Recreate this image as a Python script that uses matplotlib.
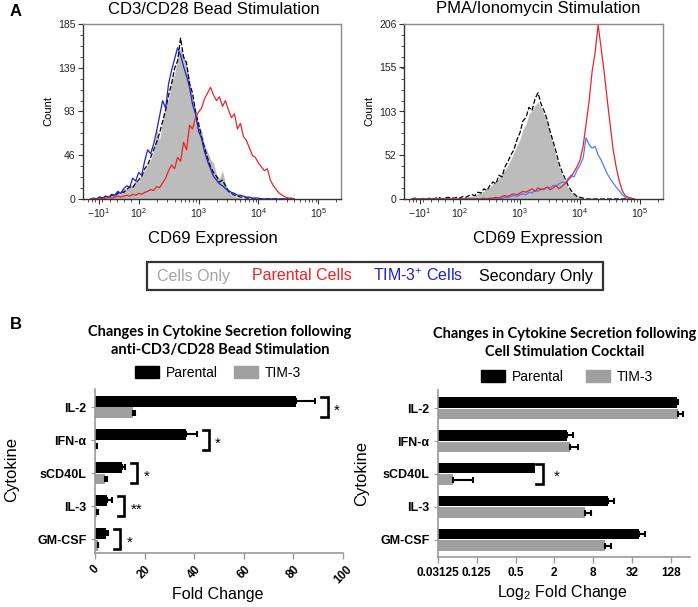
import numpy as np
import matplotlib
matplotlib.use("Agg")
import matplotlib.pyplot as plt
from matplotlib.patches import Patch, Rectangle
from matplotlib.ticker import FixedLocator

plt.rcParams['font.family'] = ['Liberation Sans', 'DejaVu Sans']
plt.rcParams['mathtext.fontset'] = 'custom'
plt.rcParams['mathtext.rm'] = 'Liberation Sans'
plt.rcParams['mathtext.it'] = 'Liberation Sans:italic'
plt.rcParams['mathtext.bf'] = 'Liberation Sans:bold'

# ---------------- data: flow histograms (x in display decades of CD69) ----------------
bead_channel = np.round(np.arange(1.20, 4.601, 0.05), 2)
bead_cells_only = [0, 0, 2, 1, 3, 1, 4, 2, 6, 9, 7, 12, 10, 16, 14, 20, 18, 27, 30, 36,
                   42, 50, 74, 62, 84, 98, 106, 124, 132, 150, 160, 152, 142, 126, 106, 96, 78, 72, 58, 50,
                   42, 38, 26, 22, 30, 16, 10, 5, 3, 2, 1] + [0] * 18
bead_tim3 = [0, 1, 0, 2, 1, 3, 2, 5, 4, 8, 6, 11, 14, 12, 22, 19, 28, 25, 40, 52,
             48, 58, 72, 88, 104, 96, 122, 136, 148, 160, 152, 140, 130, 118, 100, 90, 72, 64, 50, 40,
             32, 24, 20, 16, 14, 11, 9, 7, 6, 4, 4, 3, 2, 2, 1, 1, 1] + [0] * 12
bead_secondary = [0, 0, 1, 2, 1, 3, 1, 4, 3, 6, 8, 7, 10, 13, 12, 17, 20, 24, 32, 36,
                  44, 52, 60, 70, 82, 94, 110, 122, 138, 146, 170, 150, 144, 122, 112, 92, 80, 66, 54, 44,
                  34, 28, 24, 18, 20, 14, 8, 6, 4, 3, 2, 2, 1, 1] + [0] * 15
bead_parental = [0, 0, 0, 1, 0, 1, 2, 1, 2, 3, 2, 3, 4, 3, 5, 4, 6, 5, 7, 8,
                 10, 9, 13, 12, 17, 22, 30, 36, 32, 44, 40, 60, 52, 78, 74, 86, 92, 96, 106, 112,
                 118, 110, 104, 108, 98, 104, 94, 86, 90, 74, 80, 66, 62, 54, 46, 44, 38, 34, 30, 32,
                 20, 14, 10, 6, 4, 2, 1, 1, 0]

pma_channel = np.round(np.arange(1.20, 4.901, 0.05), 2)
pma_cells_only = [0, 0, 0, 0, 1, 0, 0, 1, 0, 1, 0, 1, 1, 0, 1, 1, 2, 1, 2, 3,
                  3, 5, 6, 8, 9, 12, 14, 18, 21, 24, 30, 34, 40, 47, 55, 63, 70, 82, 88, 100,
                  104, 110, 114, 108, 100, 90, 76, 64, 50, 38, 28, 20, 13, 8, 5, 3, 2, 1] + [0] * 17
pma_secondary = [0, 1, 0, 0, 1, 0, 1, 0, 1, 2, 0, 1, 2, 1, 1, 2, 1, 3, 2, 4,
                 5, 4, 8, 7, 12, 10, 16, 20, 18, 28, 26, 38, 44, 52, 58, 70, 78, 92, 96, 108,
                 104, 118, 125, 112, 104, 94, 80, 68, 56, 42, 32, 24, 16, 10, 6, 3, 2, 1] + [0] * 17
pma_parental = [0] * 24 + [1, 0, 1, 1, 2, 1, 3, 4, 3, 5, 6, 5, 7, 9, 8, 10, 12, 9, 13, 11,
                           12, 14, 11, 13, 16, 12, 15, 18, 22, 26, 32, 38, 46, 62, 88, 115, 150, 172, 205, 178,
                           150, 118, 88, 58, 38, 22, 10, 4, 2, 1, 0]
pma_tim3 = [0] * 28 + [1, 0, 1, 2, 2, 3, 4, 3, 5, 6, 5, 8, 7, 10, 9, 12, 11, 14, 13, 16,
                       15, 18, 20, 19, 24, 28, 26, 34, 40, 48, 72, 64, 60, 62, 52, 46, 38, 30, 24, 19,
                       14, 10, 5, 2, 1, 0, 0]

hist_tick_pos = [4 / 3, 2, 3, 4, 5]
hist_tick_labels = [r'$-10^1$', r'$10^2$', r'$10^3$', r'$10^4$', r'$10^5$']
bead_yticks = [0, 46, 93, 139, 185]
pma_yticks = [0, 52, 103, 155, 206]

# ---------------- data: cytokine bars ----------------
cytokines = ['IL-2', 'IFN-α', 'sCD40L', 'IL-3', 'GM-CSF']
bead_fc_parental = [81, 36.5, 10.7, 4.8, 4.4]
bead_fc_parental_err = [7.8, 4.5, 1.3, 2.0, 0.8]
bead_fc_tim3 = [15.5, 0.6, 4.2, 1.0, 1.2]
bead_fc_tim3_err = [0.6, 0.2, 0.5, 0.3, 0.2]
bead_sig = ['*', '*', '*', '**', '*']

cocktail_fc_parental = [160, 3.15, 1.0, 13.5, 41.7]
cocktail_fc_parental_err = [8, 0.75, 0.0, 3.3, 8.8]
cocktail_fc_tim3 = [167, 3.55, 0.054, 6.1, 12.4]
cocktail_fc_tim3_err = [35, 1.2, 0.056, 1.4, 2.8]
cocktail_sig = ['', '', '*', '', '']
log2_ticks = [0.03125, 0.125, 0.5, 2, 8, 32, 128]
log2_ticklabels = ['0.03125', '0.125', '0.5', '2', '8', '32', '128']

# ---------------- figure ----------------
W, H = 698, 607
fig = plt.figure(figsize=(W / 100, H / 100), dpi=100)


def ax_px(l, t, r, b):
    return fig.add_axes([l / W, 1 - b / H, (r - l) / W, (b - t) / H])


RED = '#ec2227'
GRAYFILL = '#bcbcbc'


def draw_hist(ax, x, cells, secondary, tim3, parental, blue, yticks, title, title_x, xlabel_x):
    ax.fill_between(x, cells, 0, color=GRAYFILL, lw=0)
    ax.plot(x, secondary, color='black', lw=0.9, ls=(0, (4, 1.6)))
    ax.plot(x, tim3, color=blue, lw=0.9)
    ax.plot(x, parental, color=RED, lw=0.9)
    ax.set_xlim(1.07, 5.38)
    ax.set_ylim(0, yticks[-1])
    ax.set_xticks(hist_tick_pos)
    ax.set_xticklabels(hist_tick_labels)
    minors = []
    for dec in [2, 3, 4]:
        minors += [dec + np.log10(k) for k in range(2, 10)]
    minors += [5 + np.log10(2)]
    minors += [2 - 0.606 * (1 - v / 100) for v in [-40, -30, -20, 0, 20, 40, 60, 80]]
    ax.xaxis.set_minor_locator(FixedLocator(minors))
    ax.set_yticks(yticks)
    ax.yaxis.set_minor_locator(FixedLocator(np.linspace(0, yticks[-1], 17)))
    ax.tick_params(axis='both', which='major', labelsize=7.5, length=3.5, width=0.8,
                   color='#333333', labelcolor='#222222', pad=2)
    ax.tick_params(axis='both', which='minor', length=2, width=0.6, color='#333333')
    for s in ['left', 'bottom']:
        ax.spines[s].set_color('#333333')
        ax.spines[s].set_linewidth(1.0)
    for s in ['top', 'right']:
        ax.spines[s].set_color('#8a8a8a')
        ax.spines[s].set_linewidth(1.0)
    ax.set_ylabel('Count', fontsize=8, labelpad=3)
    fig.text(title_x / W, 1 - 9 / H, title, ha='center', va='center', fontsize=12)
    fig.text(xlabel_x / W, 1 - 239 / H, 'CD69 Expression', ha='center', va='center', fontsize=12)


ax1 = ax_px(83, 24, 341, 199)
draw_hist(ax1, bead_channel, bead_cells_only, bead_secondary, bead_tim3, bead_parental,
          '#1f22c8', bead_yticks, 'CD3/CD28 Bead Stimulation', 214, 213)
ax2 = ax_px(404, 24, 663, 199)
draw_hist(ax2, pma_channel, pma_cells_only, pma_secondary, pma_tim3, pma_parental,
          '#4a7dff', pma_yticks, 'PMA/Ionomycin Stimulation', 538, 538)

fig.text(10 / W, 1 - 12 / H, 'A', fontsize=12, fontweight='bold', ha='left', va='center')
fig.text(10 / W, 1 - 325 / H, 'B', fontsize=12, fontweight='bold', ha='left', va='center')

# legend box for histograms
fig.add_artist(Rectangle((147 / W, 1 - 290 / H), 456 / W, 28 / H, transform=fig.transFigure,
                         fill=False, ec='#333333', lw=1.6))
leg_items = [('Cells Only', '#a5a5a5', 157), ('Parental Cells', RED, 252),
             (r'TIM-3$^{+}$ Cells', '#1f22c8', 373), ('Secondary Only', 'black', 479)]
for txt, col, xp in leg_items:
    fig.text(xp / W, 1 - 276 / H, txt, color=col, fontsize=11.5, ha='left', va='center')

# ---------------- bar charts ----------------
BAR_GRAY = '#a0a0a0'
ypos = np.arange(len(cytokines))
bh = 0.33
off = 0.18
TITLE_FONT = ['Lato', 'DejaVu Sans']


def style_bar_ax(ax):
    for s in ['top', 'right']:
        ax.spines[s].set_visible(False)
    for s in ['left', 'bottom']:
        ax.spines[s].set_color('#9a9a9a')
        ax.spines[s].set_linewidth(1.2)
    ax.set_yticks(ypos)
    ax.set_yticklabels(cytokines, fontweight='bold', fontsize=9)
    ax.tick_params(axis='y', length=3, color='#9a9a9a', pad=3)
    ax.tick_params(axis='x', length=4, color='#9a9a9a', width=1.0)


# left: linear fold change
ax3 = ax_px(95, 389, 343, 553)
ax3.barh(ypos - off, bead_fc_parental, height=bh, color='black')
ax3.barh(ypos + off, bead_fc_tim3, height=bh, color=BAR_GRAY)
ax3.errorbar(bead_fc_parental, ypos - off, xerr=[np.zeros(5), bead_fc_parental_err], fmt='none',
             ecolor='black', elinewidth=1.5, capsize=2, capthick=1.5)
ax3.errorbar(bead_fc_tim3, ypos + off, xerr=[np.zeros(5), bead_fc_tim3_err], fmt='none',
             ecolor='black', elinewidth=1.5, capsize=2, capthick=1.5)
ax3.set_xlim(0, 100)
ax3.set_ylim(4.42, -0.545)
style_bar_ax(ax3)
ax3.set_xticks([0, 20, 40, 60, 80, 100])
ax3.set_xticklabels(['0', '20', '40', '60', '80', '100'], rotation=45, ha='center',
                    fontweight='bold', fontsize=8.5)
for i, lab in enumerate(bead_sig):
    top = max(bead_fc_parental[i] + bead_fc_parental_err[i], bead_fc_tim3[i] + bead_fc_tim3_err[i])
    xb = top + 5
    ax3.plot([xb - 2.6, xb, xb, xb - 2.6], [i - 0.3, i - 0.3, i + 0.3, i + 0.3], color='black',
             lw=1.9, solid_joinstyle='miter')
    ax3.text(xb + 2.5, i + 0.12, lab, fontsize=11, ha='left', va='center')

fig.text(220 / W, 1 - 341 / H, 'Changes in Cytokine Secretion following\nanti-CD3/CD28 Bead Stimulation',
         ha='center', va='center', fontsize=10.5, fontweight='bold', family=TITLE_FONT, linespacing=1.4)
fig.text(218 / W, 1 - 594 / H, 'Fold Change', ha='center', va='center', fontsize=11.5)
fig.text(12 / W, 1 - 470 / H, 'Cytokine', ha='center', va='center', fontsize=12, rotation=90)

handles = [Patch(color='black'), Patch(color=BAR_GRAY)]
fig.legend(handles, ['Parental', 'TIM-3'], loc='center', bbox_to_anchor=(218 / W, 1 - 373 / H),
           ncol=2, frameon=False, fontsize=10, handlelength=1.7, handleheight=0.9,
           columnspacing=1.2, handletextpad=0.5)

# right: log2 fold change
xmin = 0.03125
ax4 = ax_px(438, 390, 690, 557)
ax4.set_xscale('log', base=2)
ax4.barh(ypos - off, np.array(cocktail_fc_parental) - xmin, left=xmin, height=bh, color='black')
ax4.barh(ypos + off, np.array(cocktail_fc_tim3) - xmin, left=xmin, height=bh, color=BAR_GRAY)
perr = np.array(cocktail_fc_parental_err)
mask = perr > 0
ax4.errorbar(np.array(cocktail_fc_parental)[mask], (ypos - off)[mask],
             xerr=[np.zeros(mask.sum()), perr[mask]], fmt='none',
             ecolor='black', elinewidth=1.5, capsize=2, capthick=1.5)
ax4.errorbar(cocktail_fc_tim3, ypos + off, xerr=[np.zeros(5), cocktail_fc_tim3_err], fmt='none',
             ecolor='black', elinewidth=1.5, capsize=2, capthick=1.5)
ax4.set_xlim(xmin, 256)
ax4.set_ylim(4.52, -0.55)
style_bar_ax(ax4)
ax4.xaxis.set_minor_locator(FixedLocator([]))
ax4.set_xticks(log2_ticks)
ax4.set_xticklabels(log2_ticklabels, fontweight='bold', fontsize=8.5)
for i, lab in enumerate(cocktail_sig):
    if lab:
        xb = 1.33
        ax4.plot([xb * 0.78, xb, xb, xb * 0.78], [i - 0.3, i - 0.3, i + 0.3, i + 0.3], color='black',
                 lw=1.9, solid_joinstyle='miter')
        ax4.text(xb * 1.45, i + 0.08, lab, fontsize=11, ha='left', va='center')

fig.text(565 / W, 1 - 343 / H, 'Changes in Cytokine Secretion following\nCell Stimulation Cocktail',
         ha='center', va='center', fontsize=10.5, fontweight='bold', family=TITLE_FONT, linespacing=1.4)
fig.text(562 / W, 1 - 593 / H, r'Log$_2$ Fold Change', ha='center', va='center', fontsize=11.5)
fig.text(362 / W, 1 - 473 / H, 'Cytokine', ha='center', va='center', fontsize=12, rotation=90)
fig.legend(handles, ['Parental', 'TIM-3'], loc='center', bbox_to_anchor=(567 / W, 1 - 377 / H),
           ncol=2, frameon=False, fontsize=10, handlelength=1.7, handleheight=0.9,
           columnspacing=1.6, handletextpad=0.5)

fig.savefig('out.png', dpi=100)
